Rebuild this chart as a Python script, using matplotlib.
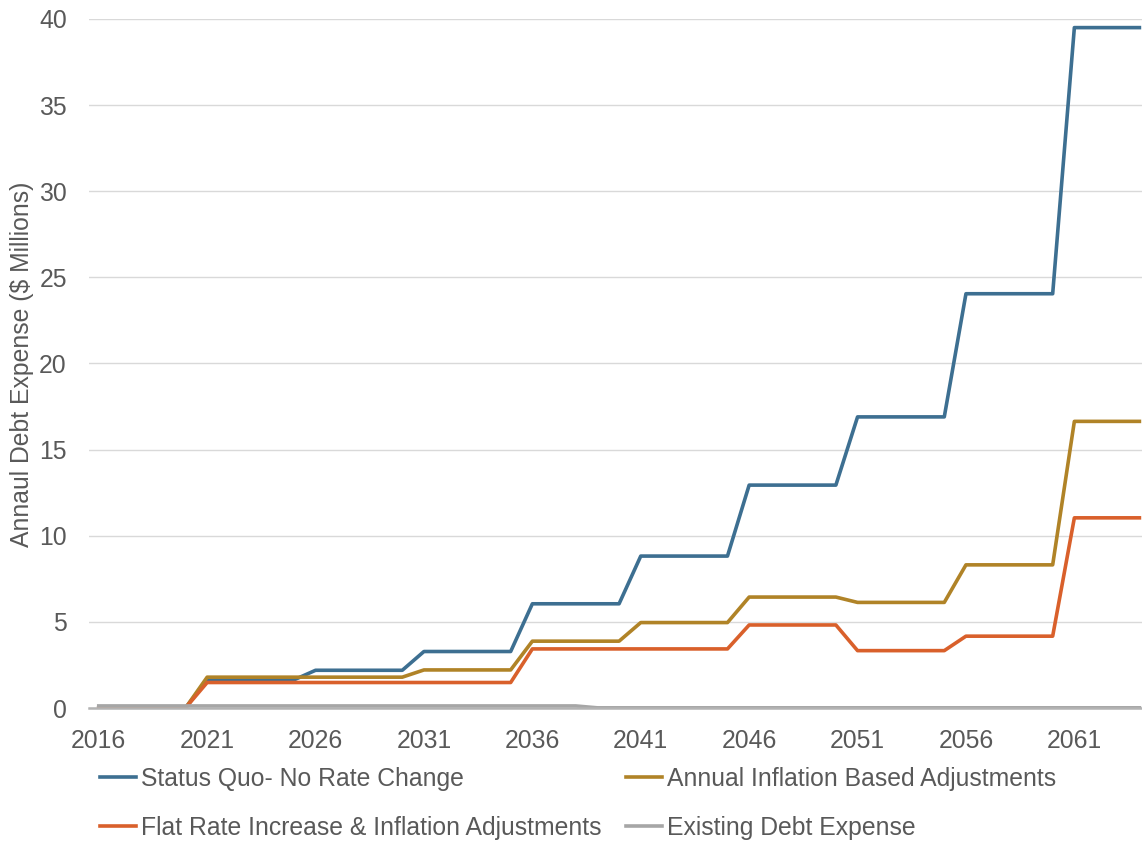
import numpy as np
import matplotlib.pyplot as plt

plt.rcParams["font.family"] = ["Liberation Sans", "DejaVu Sans"]

years = np.arange(2016, 2065)

# values per block of years ($ millions)
status_quo = [0.0] * 5 + [1.63] * 5 + [2.19] * 5 + [3.28] * 5 + [6.05] * 5 \
    + [8.82] * 5 + [12.94] * 5 + [16.9] * 5 + [24.05] * 5 + [39.5] * 4
inflation = [0.0] * 5 + [1.79] * 10 + [2.21] * 5 + [3.88] * 5 \
    + [4.96] * 5 + [6.44] * 5 + [6.13] * 5 + [8.31] * 5 + [16.64] * 4
flat_rate = [0.0] * 5 + [1.48] * 15 + [3.43] * 10 + [4.82] * 5 \
    + [3.33] * 5 + [4.17] * 5 + [11.04] * 4
existing = [0.12] * 23 + [0.01] * 26

labels = [
    "Status Quo- No Rate Change",
    "Annual Inflation Based Adjustments",
    "Flat Rate Increase & Inflation Adjustments",
    "Existing Debt Expense",
]
colors = ["#3d6f91", "#b08327", "#d9602b", "#a6a6a6"]
text_color = "#595959"
fs = 17.8

fig = plt.figure(figsize=(11.42, 8.43), dpi=100)
ax = fig.add_axes([89 / 1142, 135 / 843, 1 - 89 / 1142, 689 / 843])

handles = []
for series, lab, col in zip([status_quo, inflation, flat_rate, existing], labels, colors):
    h, = ax.plot(years, series, color=col, lw=2.6, label=lab, solid_joinstyle="round")
    handles.append(h)

ax.set_xlim(2015.55, 2064.12)
ax.set_ylim(0, 40)
ax.set_yticks(np.arange(0, 41, 5))
ax.set_xticks(np.arange(2016, 2065, 5))
ax.grid(axis="y", color="#d9d9d9", lw=1)
ax.set_axisbelow(True)
for s in ["top", "right", "left"]:
    ax.spines[s].set_visible(False)
ax.spines["bottom"].set_color("#b3b3b3")
ax.spines["bottom"].set_linewidth(1.8)
ax.tick_params(length=0, labelsize=fs, labelcolor=text_color)
ax.tick_params(axis="y", pad=16)
ax.tick_params(axis="x", pad=15)

fig.text(22 / 1142, (843 - 364) / 843, "Annaul Debt Expense ($ Millions)", rotation=90,
         ha="center", va="center", fontsize=fs, color=text_color)

# legend filled row by row, like the original
order = [0, 2, 1, 3]
fig.legend([handles[i] for i in order], [labels[i] for i in order],
           loc="upper left", bbox_to_anchor=(100 / 1142, (843 - 767) / 843),
           ncol=2, frameon=False, fontsize=fs, labelcolor=text_color,
           handlelength=1.45, handletextpad=0.2, columnspacing=1.0,
           labelspacing=1.0, borderpad=0, borderaxespad=0)

fig.savefig("out.png", dpi=100)
